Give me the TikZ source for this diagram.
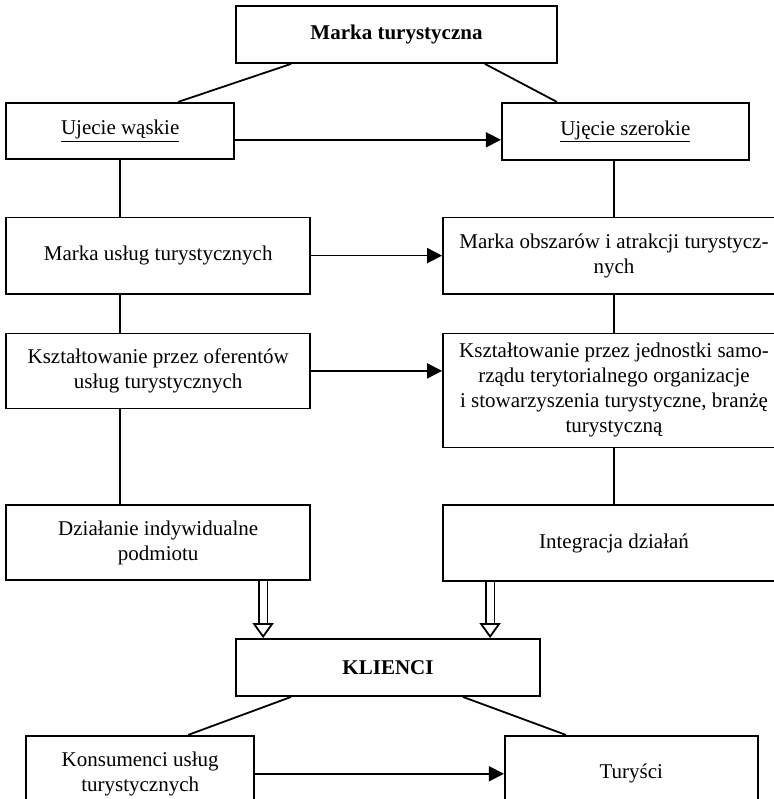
\documentclass[tikz,border=0pt]{standalone}
\usepackage{fontspec}
\setmainfont{Liberation Serif}
\usepackage{tikz}
\usetikzlibrary{positioning, arrows.meta}
\tikzset{main box/.style={rectangle,draw,line width=1.8pt,align=center,inner sep=2pt,font=\fontsize{21}{25}\selectfont},
         link/.style={line width=1.8pt},
         push/.style={line width=1.8pt,-{Triangle[length=15pt,width=15pt]}},
         hollow/.style={double,double distance=7pt,line width=1.8pt,-{Triangle[open,length=15pt,width=21pt,line width=1.8pt]}}}

\begin{document}
\begin{tikzpicture}[x=1pt,y=-1pt]
            \useasboundingbox (0,0) rectangle (773,799);
            \node[main box, minimum width=321pt, minimum height=57pt] (top) at (396.5,34.5) {\textbf{Marka turystyczna}};
            \node[main box, minimum width=228pt, minimum height=56pt] (uw) [below left = 38pt and 0pt of top] {\underline{Ujecie wąskie}};
            \node[main box, minimum width=247pt, minimum height=57pt] (us) [below right = 38pt and -57pt of top] {\underline{Ujęcie szerokie}};
            \node[main box, minimum width=304pt, minimum height=76pt] (mu) [below right = 57pt and 0pt of uw.south west] {Marka usług turystycznych};
            \node[main box, minimum width=342pt, minimum height=76pt] (mo) [right = 131pt of mu] {Marka obszarów i atrakcji turystycz-\\nych};
            \node[main box, minimum width=304pt, minimum height=75pt] (ko) [below = 38pt of mu] {Kształtowanie przez oferentów\\usług turystycznych};
            \node[main box, minimum width=342pt, minimum height=114pt] (kj) [below = 38pt of mo] {Kształtowanie przez jednostki samo-\\rządu terytorialnego organizacje\\i stowarzyszenia turystyczne, branżę\\turystyczną};
            \node[main box, minimum width=304pt, minimum height=75pt] (di) [below = 95pt of ko] {Działanie indywidualne\\podmiotu};
            \node[main box, minimum width=342pt, minimum height=76pt] (in) [below = 56pt of kj] {Integracja działań};
            \node[main box, minimum width=304pt, minimum height=57pt] (kl) [below right = 57pt and -76pt of di] {\textbf{KLIENCI}};
            \node[main box, minimum width=228pt, minimum height=76pt] (kk) [below left = 38pt and -20pt of kl] {Konsumenci usług\\turystycznych};
            \node[main box, minimum width=253pt, minimum height=76pt] (tu) [below right = 38pt and -37pt of kl] {Turyści};

            \path[draw, link]
            ([xshift=56pt]top.south west) edge ([xshift=58pt]uw.north)
            ([xshift=-73pt]top.south east) edge ([xshift=56pt]us.north west)
            (uw.south) edge (uw.south |- mu.north)
            (uw.south |- mu.south) edge (uw.south |- ko.north)
            (uw.south |- ko.south) edge (uw.south |- di.north)
            (us.south -| mo.north) edge (mo.north)
            (mo) edge (kj)
            (kj) edge (in)
            ([xshift=56pt]kl.south west) edge ([xshift=48pt]kk.north)
            ([xshift=-78pt]kl.south east) edge ([xshift=62pt]tu.north west);

            \draw[push] ([yshift=-9pt]uw.east) -- ([yshift=-9pt]uw.east -| us.west);
            \draw[push] (mu) -- (mo);
            \draw[push] (ko.east) -- (ko.east -| kj.west);
            \draw[push] (kk) -- (tu);

            \coordinate (h1) at ([xshift=-48pt]di.south east);
            \coordinate (h2) at ([xshift=48pt]in.south west);
            \draw[hollow] (h1) -- (h1 |- kl.north);
            \draw[hollow] (h2) -- (h2 |- kl.north);
        \end{tikzpicture}
\end{document}
